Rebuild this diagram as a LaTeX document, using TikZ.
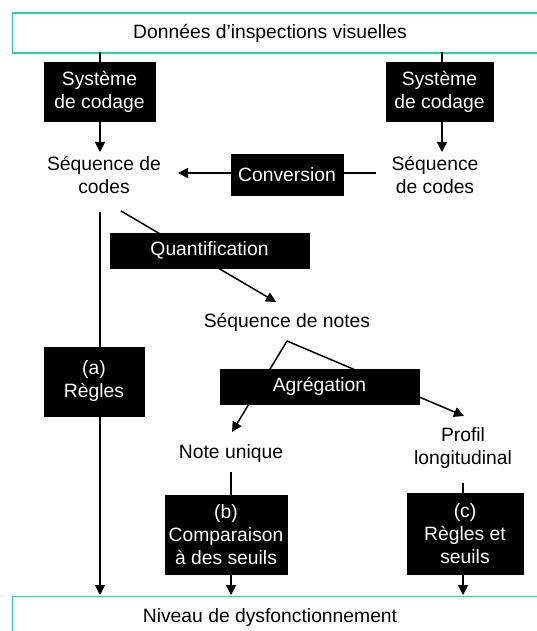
\documentclass[tikz,border=0pt]{standalone}
\usepackage{fontspec}
\setmainfont{Liberation Sans}
\usetikzlibrary{arrows.meta}
\definecolor{teal1}{HTML}{22D8A2}
\begin{document}
\begin{tikzpicture}[x=1pt,y=-1pt,
  every node/.style={font=\fontsize{19.3}{23}\selectfont, align=center, inner sep=0pt},
  blk/.style={fill=black, text=white, draw=black, line width=0.5pt},
  frame/.style={draw=teal1, line width=1.6pt},
  ln/.style={line width=1.5pt},
  arr/.style={line width=1.5pt, -{Triangle[length=10pt,width=10pt]}}]
\useasboundingbox (0,0) rectangle (536,631);
% frames
\node[frame, minimum width=530pt, minimum height=40pt, anchor=north west] (top) at (11.5,12.5) {};
\node at (270,33) {Données d’inspections visuelles};
\node[frame, minimum width=530pt, minimum height=40pt, anchor=north west] (bot) at (11.5,595.5) {};
\node at (270,618) {Niveau de dysfonctionnement};
% coding systems
\node[blk, minimum width=111pt, minimum height=59pt] (sc1) at (99.5,91.5) {Système\\de codage};
\node[blk, minimum width=107pt, minimum height=59pt] (sc2) at (439.5,91.5) {Système\\de codage};
\node (s1) at (104,175) {Séquence de\\codes};
\node (s2) at (435,175) {Séquence\\de codes};
\coordinate (s1t) at (100,152);
\coordinate (s2t) at (442,152);
\draw[ln] (100,52.5) -- (100,62);
\draw[ln] (442,52.5) -- (442,62);
\draw[arr] (100,121) -- (s1t);
\draw[arr] (442,121) -- (s2t);
% conversion
\node[blk, minimum width=112pt, minimum height=41pt] (conv) at (287,174.5) {Conversion};
\coordinate (s1r) at (178,173);
\draw[ln] (376,173) -- (conv.east |- 0,173);
\draw[arr] (conv.west |- 0,173) -- (s1r);
% quantification
\coordinate (q0) at (121,211);
\coordinate (sn) at (276,302);
\draw[arr] (q0) -- (sn);
\node[blk, minimum width=199pt, minimum height=35pt] (quant) at (209.5,250.5) {Quantification};
\node (notes) at (287,322) {Séquence de notes};
% (a)
\node[blk, minimum width=100pt, minimum height=69pt] (ra) at (94,381.5) {(a)\\Règles};
\draw[ln] (100,212) -- (ra.north -| 100,0);
\draw[arr] (ra.south -| 100,0) -- (100,595);
% aggregation
\coordinate (apex) at (287,341);
\coordinate (nu) at (232,432);
\coordinate (pl) at (464,416);
\draw[arr] (apex) -- (nu);
\draw[arr] (apex) -- (pl);
\node[blk, minimum width=199pt, minimum height=35pt] (agg) at (319.5,386.5) {Agrégation};
\node (note) at (231,454) {Note unique};
\node (prof) at (463,448) {Profil\\longitudinal};
% (b)
\node[blk, minimum width=122pt, minimum height=79pt] (rb) at (226,534.5) {(b)\\Comparaison\\à des seuils};
\draw[ln] (231,472) -- (231,495);
\draw[arr] (231,574) -- (231,595);
% (c)
\node[blk, minimum width=116pt, minimum height=81pt] (rc) at (465,533.5) {(c)\\Règles et\\seuils};
\draw[ln] (463,483) -- (463,493);
\draw[arr] (463,574) -- (463,595);
\end{tikzpicture}
\end{document}
